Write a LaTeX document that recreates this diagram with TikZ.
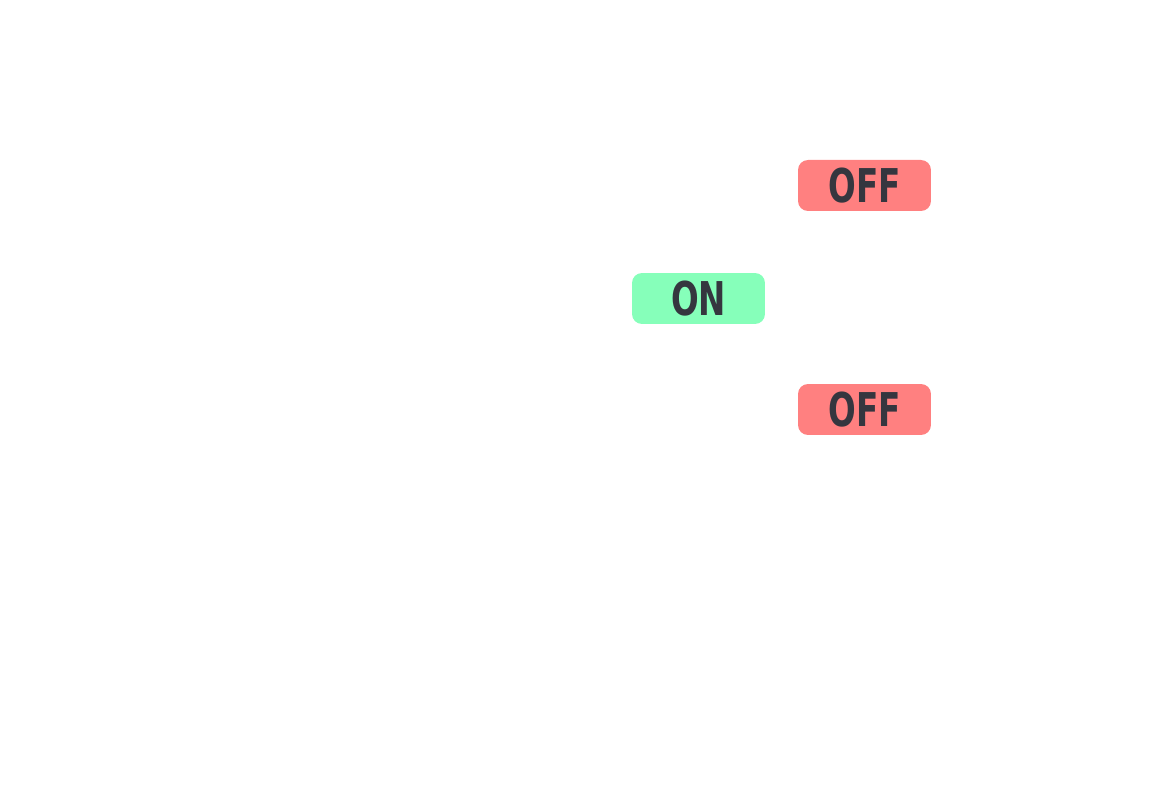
\documentclass[tikz,border=0pt]{standalone}
\usepackage{fontspec}
\newfontfamily\switchfont[FakeStretch=0.7]{DejaVu Sans}
\definecolor{offred}{HTML}{FF8080}
\definecolor{ongreen}{HTML}{86FFBA}
\definecolor{labelgray}{HTML}{35363F}

\begin{document}
\begin{tikzpicture}[
	x=0.02cm,
	y=-0.02cm,
	line cap=round,
	line join=round,
	every node/.style={align=center},
	switch/.style={
		shape=rectangle,
		rounded corners=0.2cm,
		minimum width=2.66cm,
		minimum height=1.02cm,
		inner sep=0pt,
		text=labelgray,
		font=\switchfont\bfseries\fontsize{26.5}{26.5}\selectfont
	},
	switchon/.style={switch, fill=ongreen},
	switchoff/.style={switch, fill=offred}
	]
	\useasboundingbox (0,0) rectangle (1160,810);
	\node [switchon] (on) at (698.5,298.5) {ON};
	\node [switchoff] (offtop) at (864.5,185.5) {OFF};
	\node [switchoff] (offbottom) at (864.5,409.5) {OFF};
\end{tikzpicture}
\end{document}
